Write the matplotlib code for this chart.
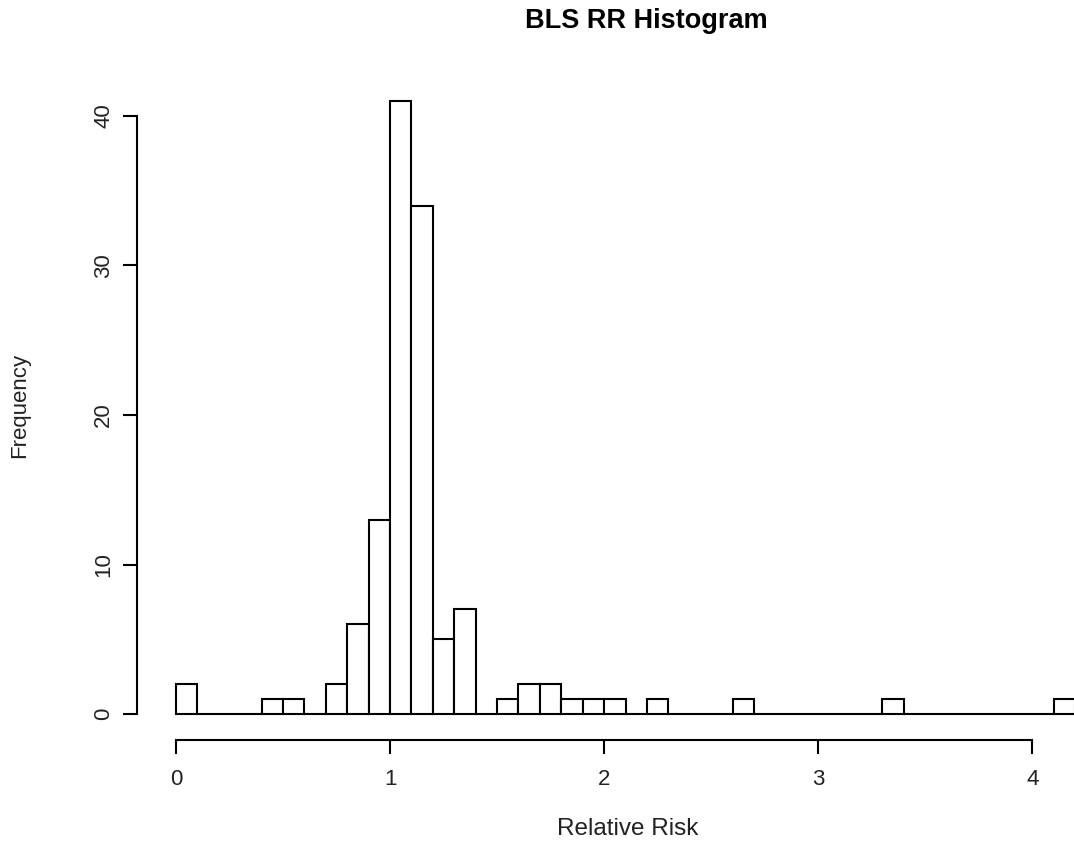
import matplotlib
matplotlib.use("Agg")
import matplotlib.pyplot as plt
import numpy as np

plt.rcParams['font.family'] = ['Liberation Sans', 'DejaVu Sans']

# Histogram bins (width 0.1, from 0 to 4.2) and counts
bin_edges = [round(0.1 * i, 1) for i in range(43)]
counts = [2, 0, 0, 0, 1, 1, 0, 2, 6, 13,
          41, 34, 5, 7, 0, 1, 2, 2, 1, 1,
          1, 0, 1, 0, 0, 0, 1, 0, 0, 0,
          0, 0, 0, 1, 0, 0, 0, 0, 0, 0,
          0, 1]
x_ticks = [0, 1, 2, 3, 4]
y_ticks = [0, 10, 20, 30, 40]
title = "BLS RR Histogram"
xlabel = "Relative Risk"
ylabel = "Frequency"

W, H = 1074, 846
PT = 72 / 100  # points per pixel at dpi 100
fig = plt.figure(figsize=(W / 100, H / 100), dpi=100)
left_px, right_px = 176, 1075
bottom_px, top_px = 714, 116
ax = fig.add_axes([left_px / W, 1 - bottom_px / H,
                   (right_px - left_px) / W, (bottom_px - top_px) / H])

edges = np.array(bin_edges)
ax.bar(edges[:-1], counts, width=np.diff(edges), align='edge',
       color='white', edgecolor='black', linewidth=1.5, clip_on=False)
ax.set_xlim(0, 4.2)
ax.set_ylim(0, 40)

for s in ['top', 'right']:
    ax.spines[s].set_visible(False)
ax.spines['bottom'].set_position(('outward', 26 * PT))
ax.spines['left'].set_position(('outward', 39 * PT))
ax.spines['bottom'].set_bounds(0, 4)
ax.spines['left'].set_bounds(0, 40)
for s in ['bottom', 'left']:
    ax.spines[s].set_linewidth(1.5)

ax.set_xticks(x_ticks)
ax.set_yticks(y_ticks)
ax.set_xticklabels([str(t) for t in x_ticks])
ax.set_yticklabels([str(t) for t in y_ticks], rotation=90, va='center')
ax.tick_params(axis='both', length=14 * PT, width=1.5, labelsize=16,
               labelcolor='#222222')
ax.tick_params(axis='x', pad=15 * PT)
ax.tick_params(axis='y', pad=9 * PT)

fig.text(646 / W, 1 - 21 / H, title, ha='center', va='center',
         fontsize=19.5, fontweight='bold')
fig.text(628 / W, 1 - 829 / H, xlabel, ha='center', va='center',
         fontsize=17.5, color='#222222')
fig.text(20 / W, 1 - 405 / H, ylabel, ha='center', va='center',
         fontsize=16, rotation=90, color='#222222')

fig.savefig("out.png", dpi=100)
